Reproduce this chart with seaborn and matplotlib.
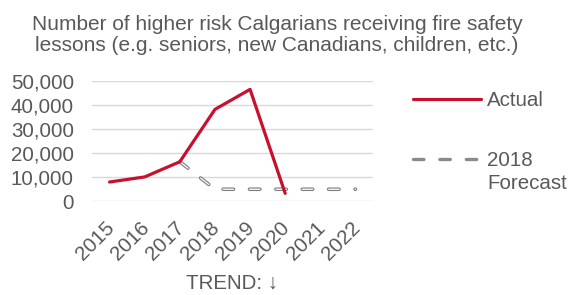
import numpy as np
import pandas as pd
import matplotlib
matplotlib.use("Agg")
import matplotlib.pyplot as plt
import matplotlib.transforms as mtransforms
import seaborn as sns
from matplotlib.lines import Line2D

years = [2015, 2016, 2017, 2018, 2019, 2020, 2021, 2022]
actual = [8000, 10100, 16400, 38100, 46400, 3300, np.nan, np.nan]
forecast = [np.nan, np.nan, 16400, 5000, 5000, 5000, 5000, 5000]
yticks = [0, 10000, 20000, 30000, 40000, 50000]
title = "Number of higher risk Calgarians receiving fire safety\nlessons (e.g. seniors, new Canadians, children, etc.)"

sns.set_style("white")
plt.rcParams['font.family'] = ['Liberation Sans', 'DejaVu Sans']
plt.rcParams['lines.scale_dashes'] = False

GRAY = "#595959"
RED = "#C8102E"
FS = 14.8

df = pd.DataFrame({"year": years, "Actual": actual, "Forecast": forecast})

fig = plt.figure(figsize=(5.7, 2.95), dpi=100)
ax = fig.add_axes([92/570, 1-201.3/295, (373-92)/570, (201.3-80.7)/295])

for y in yticks:
    ax.axhline(y, color="#d9d9d9", lw=1.0, zorder=0)

dash = (7.5, 11.5)
sns.lineplot(data=df, x="year", y="Forecast", ax=ax, color="#7f7f7f", lw=2.6,
             dashes=False, zorder=2)
sns.lineplot(data=df, x="year", y="Forecast", ax=ax, color="#f4f4f4", lw=1.0,
             dashes=False, zorder=3)
for ln in ax.lines[-2:]:
    ln.set_dashes(dash)
    ln.set_dash_capstyle("round")
sns.lineplot(data=df, x="year", y="Actual", ax=ax, color=RED, lw=2.3, zorder=4)

ax.set_xlim(2014.5, 2022.5)
ax.set_ylim(0, 50000)
ax.set_yticks(yticks)
ax.set_yticklabels([f"{v:,}" for v in yticks], color=GRAY, fontsize=FS)
ax.set_xticks(years)
ax.set_xticklabels([str(y) for y in years], rotation=45, ha="right",
                   rotation_mode="anchor", color=GRAY, fontsize=FS)
ax.tick_params(axis="y", length=0, pad=13)
ax.tick_params(axis="x", length=0, pad=12)
shift = mtransforms.ScaledTranslation(-5/100, 0, fig.dpi_scale_trans)
for lab in ax.get_xticklabels():
    lab.set_transform(lab.get_transform() + shift)
ax.set_xlabel("TREND: ↓", color=GRAY, fontsize=FS, labelpad=7)
ax.set_ylabel("")
for s in ax.spines.values():
    s.set_visible(False)

fig.text(0.486, 0.949, title, ha="center", va="top", color=GRAY, fontsize=15,
         linespacing=1.1)

h1 = Line2D([], [], color=RED, lw=2.3)
h2 = Line2D([], [], color="#8a8a8a", lw=2.4, dashes=dash, dash_capstyle="round")
leg = fig.legend([h1, h2], ["Actual", "2018\nForecast"], loc="upper left",
                 bbox_to_anchor=(405/570, 1-83/295), frameon=False,
                 borderaxespad=0, fontsize=FS, handlelength=3.3,
                 handletextpad=0.3, labelspacing=2.0, labelcolor=GRAY)
leg.get_texts()[1].set_linespacing(1.25)
hl = leg.legend_handles[1]
hl.set_ydata(np.asarray(hl.get_ydata()) + 9.5)

fig.savefig("out.png", dpi=100)
